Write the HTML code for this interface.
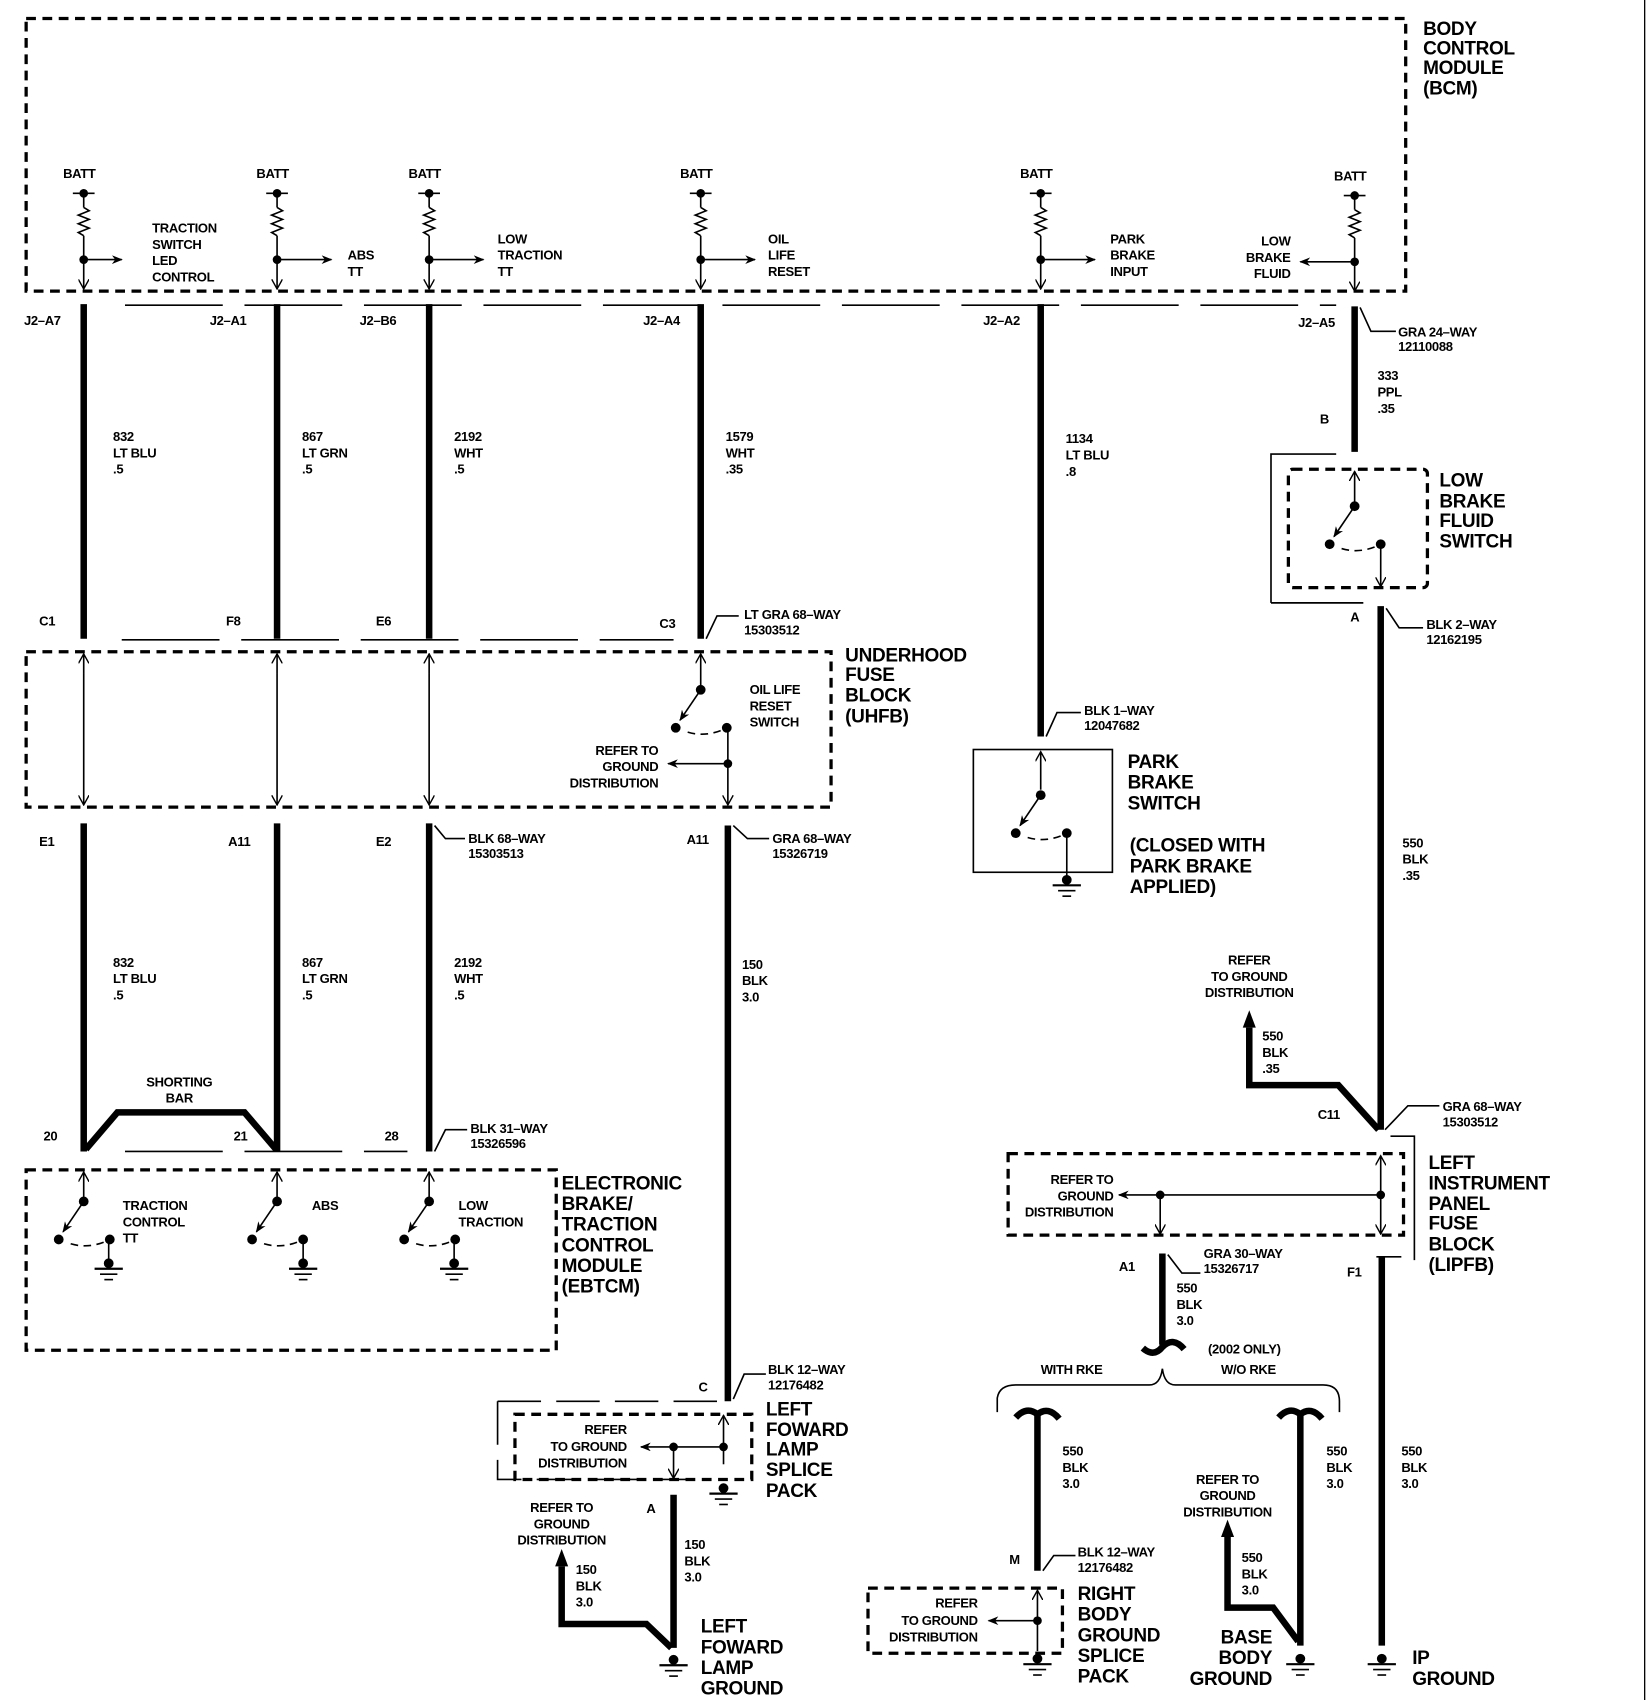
<!DOCTYPE html>
<html><head><meta charset="utf-8"><style>
html,body{margin:0;padding:0;background:#fff;}
svg{display:block;}
text{font-family:"Liberation Sans",sans-serif;font-weight:bold;fill:#000;}
.s{font-size:12px;letter-spacing:-0.3px;}
.L{font-size:17.5px;letter-spacing:-0.3px;}
.w{stroke:#000;stroke-width:6;fill:none;}
.t{stroke:#000;stroke-width:1.5;fill:none;}
.db{stroke:#000;stroke-width:3;fill:none;stroke-dasharray:9,6;}
.dt{stroke:#000;stroke-width:1.3;fill:none;stroke-dasharray:60,14;}
.cd{stroke:#000;stroke-width:1.5;fill:none;stroke-dasharray:90,20;}
</style></head><body>
<svg width="1648" height="1700" viewBox="0 0 1517 1565" xmlns="http://www.w3.org/2000/svg">
<defs>
<marker id="ar" markerWidth="10" markerHeight="8" refX="9" refY="4" orient="auto" markerUnits="userSpaceOnUse"><path d="M0,0 L10,4 L0,8 L3,4Z" fill="#000"/></marker>
<marker id="ao" markerWidth="10" markerHeight="10" refX="9" refY="5" orient="auto" markerUnits="userSpaceOnUse"><path d="M0,0 L9,5 L0,10" fill="none" stroke="#000" stroke-width="1.3"/></marker>
<marker id="ab" markerWidth="14" markerHeight="12" refX="13" refY="6" orient="auto" markerUnits="userSpaceOnUse"><path d="M0,0 L14,6 L0,12Z" fill="#000"/></marker>
<g id="gnd"><circle cx="0" cy="0" r="4.5" fill="#000"/><line x1="-13" y1="5" x2="13" y2="5" stroke="#000" stroke-width="2"/><line x1="-8" y1="10" x2="8" y2="10" stroke="#000" stroke-width="1.5"/><line x1="-4" y1="15" x2="4" y2="15" stroke="#000" stroke-width="1.5"/></g>
<g id="batt">
<line x1="-10" y1="0" x2="10" y2="0" stroke="#000" stroke-width="1.5"/><circle cx="0" cy="0" r="4" fill="#000"/>
<line x1="0" y1="0" x2="0" y2="13" class="t"/>
<polyline points="0,13 5,16 -5,20 5,24 -5,28 5,32 -5,36 0,39" class="t"/>
<line x1="0" y1="39" x2="0" y2="88" class="t" marker-end="url(#ao)"/>
<circle cx="0" cy="61" r="4" fill="#000"/>
</g>
<g id="sw">
<circle cx="0" cy="0" r="4.5" fill="#000"/>
<line x1="0" y1="0" x2="-19" y2="28" class="t" marker-end="url(#ar)"/>
<circle cx="-23" cy="35" r="4.5" fill="#000"/>
<path d="M-12,39 Q5,44 22,36" class="t" stroke-dasharray="7,5"/>
<circle cx="24" cy="35" r="4.5" fill="#000"/>
</g>
</defs>

<line x1="1514" y1="0" x2="1514" y2="1565" stroke="#000" stroke-width="1.2"/>

<!-- BCM -->
<rect x="24" y="17" width="1270" height="251" class="db"/>
<text class="L"><tspan x="1310" y="32">BODY</tspan><tspan x="1310" y="50">CONTROL</tspan><tspan x="1310" y="68">MODULE</tspan><tspan x="1310" y="87">(BCM)</tspan></text>
<g class="s">
<text x="58" y="164">BATT</text><text x="236" y="164">BATT</text><text x="376" y="164">BATT</text><text x="626" y="164">BATT</text><text x="939" y="164">BATT</text><text x="1228" y="166">BATT</text>
</g>
<use href="#batt" x="77" y="178"/><use href="#batt" x="255" y="178"/><use href="#batt" x="395" y="178"/><use href="#batt" x="645" y="178"/><use href="#batt" x="958" y="178"/><use href="#batt" x="1247" y="180"/>
<line x1="77" y1="239" x2="112" y2="239" class="t" marker-end="url(#ar)"/>
<line x1="255" y1="239" x2="305" y2="239" class="t" marker-end="url(#ar)"/>
<line x1="395" y1="239" x2="445" y2="239" class="t" marker-end="url(#ar)"/>
<line x1="645" y1="239" x2="695" y2="239" class="t" marker-end="url(#ar)"/>
<line x1="958" y1="239" x2="1008" y2="239" class="t" marker-end="url(#ar)"/>
<line x1="1247" y1="241" x2="1197" y2="241" class="t" marker-end="url(#ar)"/>
<text class="s"><tspan x="140" y="214">TRACTION</tspan><tspan x="140" y="229">SWITCH</tspan><tspan x="140" y="244">LED</tspan><tspan x="140" y="259">CONTROL</tspan></text>
<text class="s"><tspan x="320" y="239">ABS</tspan><tspan x="320" y="254">TT</tspan></text>
<text class="s"><tspan x="458" y="224">LOW</tspan><tspan x="458" y="239">TRACTION</tspan><tspan x="458" y="254">TT</tspan></text>
<text class="s"><tspan x="707" y="224">OIL</tspan><tspan x="707" y="239">LIFE</tspan><tspan x="707" y="254">RESET</tspan></text>
<text class="s"><tspan x="1022" y="224">PARK</tspan><tspan x="1022" y="239">BRAKE</tspan><tspan x="1022" y="254">INPUT</tspan></text>
<text class="s" text-anchor="end"><tspan x="1188" y="226">LOW</tspan><tspan x="1188" y="241">BRAKE</tspan><tspan x="1188" y="256">FLUID</tspan></text>

<!-- J2 connector line -->
<line x1="115" y1="281" x2="1230" y2="281" class="cd"/>
<g class="s"><text x="22" y="299">J2–A7</text><text x="193" y="299">J2–A1</text><text x="331" y="299">J2–B6</text><text x="592" y="299">J2–A4</text><text x="905" y="299">J2–A2</text><text x="1195" y="301">J2–A5</text></g>
<g class="w">
<line x1="77" y1="280" x2="77" y2="588"/><line x1="255" y1="280" x2="255" y2="588"/><line x1="395" y1="280" x2="395" y2="588"/><line x1="645" y1="280" x2="645" y2="588"/><line x1="958" y1="280" x2="958" y2="678"/><line x1="1247" y1="282" x2="1247" y2="416"/>
</g>
<polyline points="1252,283 1262,305 1285,305" class="t"/>
<text class="s"><tspan x="1287" y="310">GRA 24–WAY</tspan><tspan x="1287" y="323">12110088</tspan></text>
<text class="s"><tspan x="1268" y="350">333</tspan><tspan x="1268" y="365">PPL</tspan><tspan x="1268" y="380">.35</tspan></text>
<text class="s" x="1215" y="390">B</text>
<text class="s"><tspan x="104" y="406">832</tspan><tspan x="104" y="421">LT BLU</tspan><tspan x="104" y="436">.5</tspan></text>
<text class="s"><tspan x="278" y="406">867</tspan><tspan x="278" y="421">LT GRN</tspan><tspan x="278" y="436">.5</tspan></text>
<text class="s"><tspan x="418" y="406">2192</tspan><tspan x="418" y="421">WHT</tspan><tspan x="418" y="436">.5</tspan></text>
<text class="s"><tspan x="668" y="406">1579</tspan><tspan x="668" y="421">WHT</tspan><tspan x="668" y="436">.35</tspan></text>
<text class="s"><tspan x="981" y="408">1134</tspan><tspan x="981" y="423">LT BLU</tspan><tspan x="981" y="438">.8</tspan></text>

<!-- Low brake fluid switch -->
<polyline points="1170,555 1170,418 1230,418" class="t"/>
<line x1="1170" y1="555" x2="1255" y2="555" class="t"/>
<rect x="1186" y="432" width="128" height="109" rx="4" class="db"/>
<line x1="1247" y1="465" x2="1247" y2="434" class="t" marker-end="url(#ao)"/>
<use href="#sw" x="1247" y="466"/>
<line x1="1271" y1="501" x2="1271" y2="540" class="t" marker-end="url(#ao)"/>
<text class="L"><tspan x="1325" y="448">LOW</tspan><tspan x="1325" y="467">BRAKE</tspan><tspan x="1325" y="485">FLUID</tspan><tspan x="1325" y="504">SWITCH</tspan></text>
<text class="s" x="1243" y="572">A</text>
<line x1="1271" y1="558" x2="1271" y2="1040" class="w"/>
<polyline points="1276,560 1288,578 1310,578" class="t"/>
<text class="s"><tspan x="1313" y="579">BLK 2–WAY</tspan><tspan x="1313" y="593">12162195</tspan></text>

<!-- C connector row -->
<line x1="112" y1="589" x2="620" y2="589" class="cd"/>
<g class="s"><text x="36" y="576">C1</text><text x="208" y="576">F8</text><text x="346" y="576">E6</text><text x="607" y="578">C3</text></g>
<polyline points="650,588 660,567 680,567" class="t"/>
<text class="s"><tspan x="685" y="570">LT GRA 68–WAY</tspan><tspan x="685" y="584">15303512</tspan></text>

<!-- UHFB -->
<rect x="24" y="600" width="741" height="143" class="db"/>
<text class="L"><tspan x="778" y="609">UNDERHOOD</tspan><tspan x="778" y="627">FUSE</tspan><tspan x="778" y="646">BLOCK</tspan><tspan x="778" y="665">(UHFB)</tspan></text>
<g class="t">
<line x1="77" y1="620" x2="77" y2="602" marker-end="url(#ao)"/><line x1="77" y1="620" x2="77" y2="741" marker-end="url(#ao)"/>
<line x1="255" y1="620" x2="255" y2="602" marker-end="url(#ao)"/><line x1="255" y1="620" x2="255" y2="741" marker-end="url(#ao)"/>
<line x1="395" y1="620" x2="395" y2="602" marker-end="url(#ao)"/><line x1="395" y1="620" x2="395" y2="741" marker-end="url(#ao)"/>
<line x1="645" y1="634" x2="645" y2="602" marker-end="url(#ao)"/>
<line x1="670" y1="670" x2="670" y2="741" marker-end="url(#ao)"/>
<line x1="670" y1="703" x2="615" y2="703" marker-end="url(#ar)"/>
</g>
<use href="#sw" x="645" y="635"/>
<circle cx="670" cy="703" r="4" fill="#000"/>
<text class="s"><tspan x="690" y="639">OIL LIFE</tspan><tspan x="690" y="654">RESET</tspan><tspan x="690" y="669">SWITCH</tspan></text>
<text class="s" text-anchor="end"><tspan x="606" y="695">REFER TO</tspan><tspan x="606" y="710">GROUND</tspan><tspan x="606" y="725">DISTRIBUTION</tspan></text>

<!-- Park brake -->
<polyline points="963,678 973,656 995,656" class="t"/>
<text class="s"><tspan x="998" y="658">BLK 1–WAY</tspan><tspan x="998" y="672">12047682</tspan></text>
<rect x="896" y="690" width="128" height="113" class="t" stroke-width="3"/>
<line x1="958" y1="727" x2="958" y2="692" class="t" marker-end="url(#ao)"/>
<use href="#sw" x="958" y="732"/>
<line x1="982" y1="767" x2="982" y2="812" class="t"/>
<use href="#gnd" x="982" y="810"/>
<text class="L"><tspan x="1038" y="707">PARK</tspan><tspan x="1038" y="726">BRAKE</tspan><tspan x="1038" y="745">SWITCH</tspan><tspan x="1040" y="784">(CLOSED WITH</tspan><tspan x="1040" y="803">PARK BRAKE</tspan><tspan x="1040" y="822">APPLIED)</tspan></text>

<!-- Below UHFB -->
<g class="s"><text x="36" y="779">E1</text><text x="210" y="779">A11</text><text x="346" y="779">E2</text><text x="632" y="777">A11</text></g>
<polyline points="400,760 410,772 428,772" class="t"/>
<text class="s"><tspan x="431" y="776">BLK 68–WAY</tspan><tspan x="431" y="790">15303513</tspan></text>
<polyline points="675,760 688,772 708,772" class="t"/>
<text class="s"><tspan x="711" y="776">GRA 68–WAY</tspan><tspan x="711" y="790">15326719</tspan></text>
<g class="w">
<line x1="77" y1="758" x2="77" y2="1060"/><line x1="255" y1="758" x2="255" y2="1060"/><line x1="395" y1="758" x2="395" y2="1060"/><line x1="670" y1="760" x2="670" y2="1290"/>
<polyline points="79,1058 108,1024 225,1024 254,1058"/>
</g>
<text class="s"><tspan x="104" y="890">832</tspan><tspan x="104" y="905">LT BLU</tspan><tspan x="104" y="920">.5</tspan></text>
<text class="s"><tspan x="278" y="890">867</tspan><tspan x="278" y="905">LT GRN</tspan><tspan x="278" y="920">.5</tspan></text>
<text class="s"><tspan x="418" y="890">2192</tspan><tspan x="418" y="905">WHT</tspan><tspan x="418" y="920">.5</tspan></text>
<text class="s"><tspan x="683" y="892">150</tspan><tspan x="683" y="907">BLK</tspan><tspan x="683" y="922">3.0</tspan></text>
<text class="s" text-anchor="middle"><tspan x="165" y="1000">SHORTING</tspan><tspan x="165" y="1015">BAR</tspan></text>
<g class="s"><text x="40" y="1050">20</text><text x="215" y="1050">21</text><text x="354" y="1050">28</text></g>
<line x1="115" y1="1060" x2="375" y2="1060" class="cd"/>
<polyline points="400,1060 410,1040 430,1040" class="t"/>
<text class="s"><tspan x="433" y="1043">BLK 31–WAY</tspan><tspan x="433" y="1057">15326596</tspan></text>

<!-- EBTCM -->
<rect x="24" y="1077" width="488" height="166" class="db"/>
<text class="L"><tspan x="517" y="1095">ELECTRONIC</tspan><tspan x="517" y="1114">BRAKE/</tspan><tspan x="517" y="1133">TRACTION</tspan><tspan x="517" y="1152">CONTROL</tspan><tspan x="517" y="1171">MODULE</tspan><tspan x="517" y="1190">(EBTCM)</tspan></text>
<g class="t">
<line x1="77" y1="1105" x2="77" y2="1079" marker-end="url(#ao)"/>
<line x1="255" y1="1105" x2="255" y2="1079" marker-end="url(#ao)"/>
<line x1="395" y1="1105" x2="395" y2="1079" marker-end="url(#ao)"/>
<line x1="100" y1="1140" x2="100" y2="1165"/><line x1="279" y1="1140" x2="279" y2="1165"/><line x1="418" y1="1140" x2="418" y2="1165"/>
</g>
<use href="#sw" x="77" y="1106"/><use href="#sw" x="255" y="1106"/><use href="#sw" x="395" y="1106"/>
<use href="#gnd" x="100" y="1163"/><use href="#gnd" x="279" y="1163"/><use href="#gnd" x="418" y="1163"/>
<text class="s"><tspan x="113" y="1114">TRACTION</tspan><tspan x="113" y="1129">CONTROL</tspan><tspan x="113" y="1144">TT</tspan></text>
<text class="s" x="287" y="1114">ABS</text>
<text class="s"><tspan x="422" y="1114">LOW</tspan><tspan x="422" y="1129">TRACTION</tspan></text>

<!-- Left forward lamp splice -->
<text class="s" x="643" y="1281">C</text>
<polyline points="675,1288 685,1265 705,1265" class="t"/>
<text class="s"><tspan x="707" y="1265">BLK 12–WAY</tspan><tspan x="707" y="1279">12176482</tspan></text>
<polyline points="458,1290 458,1362 638,1362" class="t" stroke-dasharray="40,14"/>
<polyline points="458,1290 660,1290" class="t" stroke-dasharray="40,14"/>
<rect x="474" y="1302" width="218" height="60" class="db"/>
<line x1="666" y1="1348" x2="666" y2="1303" class="t" marker-end="url(#ao)"/>
<line x1="666" y1="1332" x2="590" y2="1332" class="t" marker-end="url(#ar)"/>
<line x1="620" y1="1332" x2="620" y2="1361" class="t" marker-end="url(#ao)"/>
<circle cx="620" cy="1332" r="4" fill="#000"/><circle cx="666" cy="1332" r="4" fill="#000"/>
<use href="#gnd" x="666" y="1370"/>
<text class="s" text-anchor="end"><tspan x="577" y="1320">REFER</tspan><tspan x="577" y="1336">TO GROUND</tspan><tspan x="577" y="1351">DISTRIBUTION</tspan></text>
<text class="L"><tspan x="705" y="1303">LEFT</tspan><tspan x="705" y="1322">FOWARD</tspan><tspan x="705" y="1340">LAMP</tspan><tspan x="705" y="1359">SPLICE</tspan><tspan x="705" y="1378">PACK</tspan></text>
<text class="s" x="595" y="1393">A</text>
<text class="s" text-anchor="middle"><tspan x="517" y="1392">REFER TO</tspan><tspan x="517" y="1407">GROUND</tspan><tspan x="517" y="1422">DISTRIBUTION</tspan></text>
<g class="w">
<line x1="620" y1="1376" x2="620" y2="1517"/>
<polyline points="517,1442 517,1495 595,1495 618,1517"/>
</g>
<path d="M511,1442 L517,1426 L523,1442Z" fill="#000"/>
<text class="s"><tspan x="630" y="1426">150</tspan><tspan x="630" y="1441">BLK</tspan><tspan x="630" y="1456">3.0</tspan></text>
<text class="s"><tspan x="530" y="1449">150</tspan><tspan x="530" y="1464">BLK</tspan><tspan x="530" y="1479">3.0</tspan></text>
<use href="#gnd" x="620" y="1528"/>
<text class="L"><tspan x="645" y="1503">LEFT</tspan><tspan x="645" y="1522">FOWARD</tspan><tspan x="645" y="1541">LAMP</tspan><tspan x="645" y="1560">GROUND</tspan></text>

<!-- Right side: 550 ground branch -->
<text class="s"><tspan x="1291" y="780">550</tspan><tspan x="1291" y="795">BLK</tspan><tspan x="1291" y="810">.35</tspan></text>
<text class="s" text-anchor="middle"><tspan x="1150" y="888">REFER</tspan><tspan x="1150" y="903">TO GROUND</tspan><tspan x="1150" y="918">DISTRIBUTION</tspan></text>
<polyline points="1150,946 1150,999 1232,999 1269,1040" class="w"/>
<path d="M1144,946 L1150,930 L1156,946Z" fill="#000"/>
<text class="s"><tspan x="1162" y="958">550</tspan><tspan x="1162" y="973">BLK</tspan><tspan x="1162" y="988">.35</tspan></text>
<text class="s" x="1213" y="1030">C11</text>
<polyline points="1275,1040 1296,1018 1325,1018" class="t"/>
<text class="s"><tspan x="1328" y="1023">GRA 68–WAY</tspan><tspan x="1328" y="1037">15303512</tspan></text>
<polyline points="1280,1046 1302,1046 1302,1160" class="t"/>

<!-- LIPFB -->
<rect x="928" y="1062" width="364" height="75" class="db"/>
<line x1="1271" y1="1100" x2="1271" y2="1064" class="t" marker-end="url(#ao)"/>
<line x1="1271" y1="1100" x2="1271" y2="1136" class="t" marker-end="url(#ao)"/>
<line x1="1271" y1="1100" x2="1030" y2="1100" class="t" marker-end="url(#ar)"/>
<line x1="1068" y1="1100" x2="1068" y2="1136" class="t" marker-end="url(#ao)"/>
<circle cx="1068" cy="1100" r="4" fill="#000"/><circle cx="1271" cy="1100" r="4" fill="#000"/>
<text class="s" text-anchor="end"><tspan x="1025" y="1090">REFER TO</tspan><tspan x="1025" y="1105">GROUND</tspan><tspan x="1025" y="1120">DISTRIBUTION</tspan></text>
<text class="L"><tspan x="1315" y="1076">LEFT</tspan><tspan x="1315" y="1095">INSTRUMENT</tspan><tspan x="1315" y="1114">PANEL</tspan><tspan x="1315" y="1132">FUSE</tspan><tspan x="1315" y="1151">BLOCK</tspan><tspan x="1315" y="1170">(LIPFB)</tspan></text>

<text class="s" x="1030" y="1170">A1</text>
<text class="s" x="1240" y="1175">F1</text>
<polyline points="1075,1155 1088,1172 1105,1172" class="t"/>
<text class="s"><tspan x="1108" y="1158">GRA 30–WAY</tspan><tspan x="1108" y="1172">15326717</tspan></text>
<g class="w">
<line x1="1070" y1="1154" x2="1070" y2="1238"/>
<path d="M1052,1241 Q1062,1250 1070,1240 Q1080,1230 1090,1242"/>
<line x1="1272" y1="1157" x2="1272" y2="1515"/>
</g>
<line x1="1267" y1="1157" x2="1290" y2="1157" class="t"/>
<text class="s"><tspan x="1083" y="1190">550</tspan><tspan x="1083" y="1205">BLK</tspan><tspan x="1083" y="1220">3.0</tspan></text>
<text class="s"><tspan x="1112" y="1246">(2002 ONLY)</tspan></text>
<text class="s"><tspan x="958" y="1265">WITH RKE</tspan><tspan x="1124" y="1265">W/O RKE</tspan></text>
<path d="M918,1300 L918,1287 Q920,1275 935,1275 L1058,1275 Q1068,1275 1070,1260 Q1072,1275 1082,1275 L1218,1275 Q1233,1275 1233,1290 L1233,1300" class="t"/>

<!-- 550 BLK drops -->
<g class="w">
<path d="M935,1305 Q945,1294 955,1302 Q965,1294 975,1306"/>
<line x1="955" y1="1302" x2="955" y2="1446"/>
<path d="M1177,1305 Q1187,1294 1197,1302 Q1207,1294 1217,1306"/>
<line x1="1197" y1="1302" x2="1197" y2="1515"/>
<polyline points="1130,1415 1130,1480 1172,1480 1195,1511"/>
</g>
<path d="M1124,1415 L1130,1399 L1136,1415Z" fill="#000"/>
<text class="s"><tspan x="978" y="1340">550</tspan><tspan x="978" y="1355">BLK</tspan><tspan x="978" y="1370">3.0</tspan></text>
<text class="s"><tspan x="1221" y="1340">550</tspan><tspan x="1221" y="1355">BLK</tspan><tspan x="1221" y="1370">3.0</tspan></text>
<text class="s"><tspan x="1290" y="1340">550</tspan><tspan x="1290" y="1355">BLK</tspan><tspan x="1290" y="1370">3.0</tspan></text>
<text class="s" text-anchor="middle"><tspan x="1130" y="1366">REFER TO</tspan><tspan x="1130" y="1381">GROUND</tspan><tspan x="1130" y="1396">DISTRIBUTION</tspan></text>
<text class="s"><tspan x="1143" y="1438">550</tspan><tspan x="1143" y="1453">BLK</tspan><tspan x="1143" y="1468">3.0</tspan></text>
<text class="s" x="929" y="1440">M</text>
<polyline points="960,1446 970,1432 990,1432" class="t"/>
<text class="s"><tspan x="992" y="1433">BLK 12–WAY</tspan><tspan x="992" y="1447">12176482</tspan></text>

<!-- Right body ground splice -->
<rect x="799" y="1462" width="179" height="60" class="db"/>
<line x1="955" y1="1520" x2="955" y2="1464" class="t" marker-end="url(#ao)"/>
<line x1="955" y1="1492" x2="910" y2="1492" class="t" marker-end="url(#ar)"/>
<circle cx="955" cy="1492" r="4" fill="#000"/>
<use href="#gnd" x="955" y="1527"/>
<text class="s" text-anchor="end"><tspan x="900" y="1480">REFER</tspan><tspan x="900" y="1496">TO GROUND</tspan><tspan x="900" y="1511">DISTRIBUTION</tspan></text>
<text class="L"><tspan x="992" y="1473">RIGHT</tspan><tspan x="992" y="1492">BODY</tspan><tspan x="992" y="1511">GROUND</tspan><tspan x="992" y="1530">SPLICE</tspan><tspan x="992" y="1549">PACK</tspan></text>
<text class="L" text-anchor="end"><tspan x="1171" y="1513">BASE</tspan><tspan x="1171" y="1532">BODY</tspan><tspan x="1171" y="1551">GROUND</tspan></text>
<use href="#gnd" x="1197" y="1527"/>
<use href="#gnd" x="1272" y="1527"/>
<text class="L"><tspan x="1300" y="1532">IP</tspan><tspan x="1300" y="1551">GROUND</tspan></text>
</svg>
</body></html>
